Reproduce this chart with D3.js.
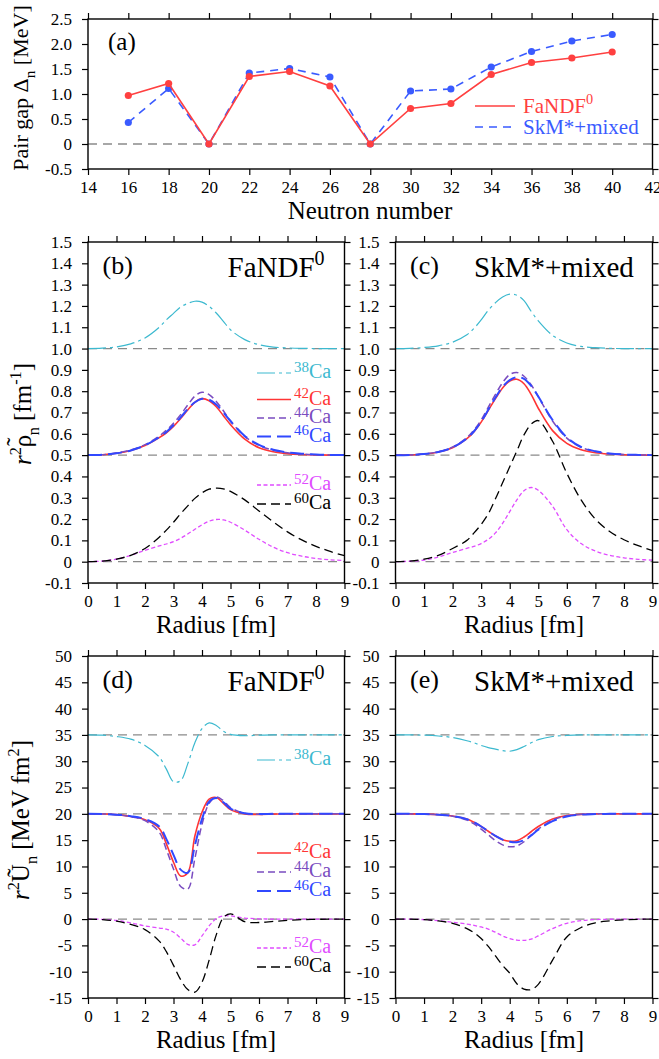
<!DOCTYPE html>
<html><head><meta charset="utf-8">
<script src="https://cdn.jsdelivr.net/npm/d3@7"></script>
<style>body{margin:0;background:#fff}svg{display:block}</style>
</head><body><svg id="c" width="659" height="1059"></svg>
<script>
// ---------- DATA ----------
const neutronNumbers = [16,18,20,22,24,26,28,30,32,34,36,38,40];
const gapFaNDF = [0.97,1.21,0.0,1.35,1.45,1.16,0.0,0.71,0.81,1.39,1.63,1.72,1.84];
const gapSkM   = [0.43,1.11,0.0,1.42,1.51,1.34,0.0,1.06,1.10,1.54,1.85,2.06,2.19];
const nTicks   = [14,16,18,20,22,24,26,28,30,32,34,36,38,40,42];
const gapTicks = [-0.5,0,0.5,1.0,1.5,2.0,2.5];
const radiusTicks = [0,1,2,3,4,5,6,7,8,9];
const rhoTicks = [-0.1,0,0.1,0.2,0.3,0.4,0.5,0.6,0.7,0.8,0.9,1.0,1.1,1.2,1.3,1.4,1.5];
const potTicks = [-15,-10,-5,0,5,10,15,20,25,30,35,40,45,50];
const isotopes = ["38","42","44","46","52","60"];
const rhoRefLines = [0,0.5,1.0];
const potRefLines = [0,20,35];

const radius = [0,0.5,1,1.5,2,2.5,2.75,3,3.25,3.5,3.75,4,4.25,4.5,4.75,5,5.5,6,6.5,7,7.5,8,8.5,9];

// (b) FaNDF0 densities (plotted, with offsets)
const rhoF38 = [1.0,1.002,1.008,1.022,1.05,1.10,1.135,1.165,1.195,1.212,1.222,1.218,1.198,1.167,1.128,1.088,1.042,1.018,1.007,1.003,1.001,1.0,1.0,1.0];
const rhoF42 = [0.5,0.502,0.509,0.522,0.545,0.582,0.605,0.635,0.672,0.712,0.748,0.765,0.755,0.727,0.685,0.643,0.575,0.535,0.516,0.507,0.503,0.501,0.5,0.5];
const rhoF44 = [0.5,0.502,0.51,0.524,0.549,0.59,0.617,0.65,0.69,0.735,0.777,0.795,0.784,0.752,0.708,0.66,0.588,0.546,0.523,0.511,0.505,0.502,0.501,0.5];
const rhoF46 = [0.5,0.502,0.509,0.522,0.546,0.584,0.609,0.64,0.677,0.716,0.748,0.764,0.76,0.737,0.70,0.66,0.59,0.548,0.525,0.513,0.507,0.503,0.501,0.5];
const rhoF52 = [0,0.003,0.012,0.03,0.053,0.074,0.083,0.094,0.11,0.13,0.152,0.173,0.19,0.198,0.196,0.185,0.148,0.105,0.068,0.042,0.026,0.015,0.009,0.005];
const rhoF60 = [0,0.003,0.012,0.03,0.062,0.115,0.148,0.185,0.225,0.262,0.297,0.323,0.34,0.345,0.342,0.33,0.29,0.238,0.187,0.14,0.102,0.072,0.048,0.028];

// (c) SkM*+mixed densities
const rhoS38 = [1.0,1.001,1.005,1.013,1.03,1.065,1.095,1.135,1.18,1.215,1.242,1.255,1.25,1.225,1.175,1.13,1.062,1.026,1.01,1.004,1.001,1.0,1.0,1.0];
const rhoS42 = [0.5,0.501,0.505,0.515,0.535,0.577,0.61,0.655,0.71,0.765,0.815,0.848,0.856,0.835,0.785,0.72,0.615,0.555,0.525,0.511,0.505,0.502,0.5,0.5];
const rhoS44 = [0.5,0.501,0.505,0.516,0.538,0.582,0.618,0.665,0.725,0.785,0.84,0.878,0.888,0.87,0.83,0.775,0.66,0.58,0.537,0.517,0.507,0.503,0.501,0.5];
const rhoS46 = [0.5,0.501,0.505,0.515,0.536,0.578,0.612,0.657,0.713,0.77,0.82,0.852,0.866,0.858,0.825,0.775,0.665,0.583,0.538,0.518,0.508,0.503,0.501,0.5];
const rhoS52 = [0,0.002,0.008,0.022,0.043,0.063,0.072,0.085,0.105,0.135,0.18,0.235,0.29,0.333,0.348,0.335,0.26,0.15,0.085,0.05,0.03,0.018,0.011,0.007];
const rhoS60 = [0,0.003,0.012,0.03,0.062,0.1,0.135,0.175,0.225,0.295,0.37,0.445,0.52,0.595,0.645,0.662,0.565,0.415,0.29,0.2,0.142,0.103,0.075,0.052];

// (d) FaNDF0 pairing potentials
const potF38 = [35,34.95,34.7,34.2,33.0,30.8,28.5,26.1,26.3,29.5,33.5,36.2,37.3,36.8,35.7,35.1,34.85,34.95,35,35,35,35,35,35];
const potF42 = [20,19.97,19.85,19.5,18.9,17.2,14.3,10.8,8.2,8.8,15.8,20.3,22.8,23.1,22.0,20.8,20.0,19.9,19.95,20,20,20,20,20];
const potF44 = [20,19.97,19.85,19.45,18.7,16.5,13.2,9.5,6.2,5.7,11.5,18.0,22.0,23.2,22.5,21.2,20.1,19.9,19.95,20,20,20,20,20];
const potF46 = [20,19.97,19.85,19.55,19.0,17.6,15.2,12.2,9.4,8.8,14.0,19.0,22.3,23.0,22.2,21.0,20.1,19.95,20,20,20,20,20,20];
const potF52 = [0,-0.05,-0.25,-0.7,-1.3,-1.7,-1.9,-2.5,-3.6,-4.8,-4.9,-3.2,-1.3,0.1,0.6,0.6,0.2,0.05,0,0,0,0,0,0];
const potF60 = [0,-0.1,-0.4,-1.0,-2.0,-4.2,-6.2,-8.8,-11.5,-13.4,-13.9,-12.0,-7.8,-3.0,0.3,1.0,-0.5,-0.65,-0.45,-0.25,-0.1,-0.05,0,0];

// (e) SkM*+mixed pairing potentials
const potS38 = [35,35,34.95,34.8,34.5,33.9,33.5,33.0,32.6,32.3,32.0,31.9,32.2,32.8,33.5,34.1,34.7,34.9,35,35,35,35,35,35];
const potS42 = [20,20,19.95,19.85,19.6,19.0,18.4,17.6,16.7,15.8,15.1,14.8,14.9,15.6,16.6,17.6,19.0,19.7,19.9,20,20,20,20,20];
const potS44 = [20,20,19.95,19.85,19.55,18.8,18.1,17.1,16.0,14.9,14.1,13.75,13.9,14.7,15.9,17.1,18.8,19.6,19.9,20,20,20,20,20];
const potS46 = [20,20,19.95,19.85,19.6,19.0,18.4,17.6,16.7,15.8,15.1,14.7,14.6,15.0,15.9,17.0,18.6,19.5,19.85,19.95,20,20,20,20];
const potS52 = [0,-0.02,-0.1,-0.3,-0.6,-0.95,-1.2,-1.5,-1.9,-2.5,-3.2,-3.7,-4.0,-4.05,-3.8,-3.2,-1.8,-0.8,-0.3,-0.1,-0.03,0,0,0];
const potS60 = [0,-0.02,-0.1,-0.35,-0.8,-1.8,-2.6,-3.7,-5.2,-7.0,-8.8,-10.3,-12.3,-13.3,-13.4,-12.4,-7.8,-3.4,-1.6,-0.7,-0.35,-0.15,-0.05,0];

// ---------- STYLE ----------
const FONT = '"Liberation Serif","Times New Roman",Times,serif';
const isoStyle = {
  "38": {color:"#3cb9cf", dash:"18,4,3,4", width:1.2},
  "42": {color:"#ff3535", dash:null,       width:1.6},
  "44": {color:"#7a4cc0", dash:"7,4",      width:1.5},
  "46": {color:"#3048ff", dash:"14,6",     width:2.0},
  "52": {color:"#e04cff", dash:"4,2.5",    width:1.3},
  "60": {color:"#000000", dash:"9,5",      width:1.3}
};
const gapRed = "#ff4040", gapBlue = "#3a5bff";

const svg = d3.select("#c");
svg.append("rect").attr("width",659).attr("height",1059).attr("fill","#fff");

// parts: strings or {t, sup, sub, italic, rise, drop, scale, raise(px), dx(px)}
function richText(g, x, y, parts, size, opts={}) {
  const t = g.append("text").attr("x",x).attr("y",y)
    .attr("font-size",size).attr("font-family",FONT)
    .attr("fill", opts.fill || "#000");
  if (opts.anchor) t.attr("text-anchor", opts.anchor);
  if (opts.transform) t.attr("transform", opts.transform);
  let shift = 0;
  parts.forEach(p => {
    const s = typeof p === "string" ? {t:p} : p;
    const ts = t.append("tspan").text(s.t);
    let target = 0, fs = size;
    if (s.sup) { target = -size*(s.rise||0.4); fs = size*(s.scale||0.7); }
    if (s.sub) { target = size*(s.drop||0.25); fs = size*(s.scale||0.7); }
    if (s.raise !== undefined) { target = -s.raise; }
    ts.attr("dy", target - shift); shift = target;
    if (s.dx) ts.attr("dx", s.dx);
    if (fs !== size) ts.attr("font-size", fs);
    if (s.italic) ts.attr("font-style","italic");
  });
  return t;
}

function styleAxis(s) {
  s.select(".domain").remove();
  s.selectAll("line").attr("stroke","#000").attr("stroke-width",1.2);
  s.selectAll("text").attr("font-family",FONT).attr("font-size",17).attr("fill","#000");
}

let clipN = 0;
function panel(p) {
  const g = svg.append("g");
  const x = d3.scaleLinear().domain(p.xDomain).range([p.x0,p.x1]);
  const y = d3.scaleLinear().domain(p.yDomain).range([p.y1,p.y0]);
  const id = "clip" + (clipN++);
  svg.append("clipPath").attr("id",id).append("rect")
    .attr("x",p.x0).attr("y",p.y0).attr("width",p.x1-p.x0).attr("height",p.y1-p.y0);
  const inner = g.append("g").attr("clip-path",`url(#${id})`);
  p.refLines.forEach(v => inner.append("line")
    .attr("x1",p.x0).attr("x2",p.x1).attr("y1",y(v)).attr("y2",y(v))
    .attr("stroke","#8a8a8a").attr("stroke-width",1.3).attr("stroke-dasharray","9,6"));
  const tl = 6;
  g.append("g").attr("transform",`translate(0,${p.y1})`)
    .call(d3.axisBottom(x).tickValues(p.xTicks).tickSize(tl).tickPadding(6).tickFormat(p.xFmt)).call(styleAxis);
  g.append("g").attr("transform",`translate(0,${p.y0})`)
    .call(d3.axisTop(x).tickValues(p.xTicks).tickSize(tl).tickFormat("")).call(styleAxis);
  g.append("g").attr("transform",`translate(${p.x0},0)`)
    .call(d3.axisLeft(y).tickValues(p.yTicks).tickSize(tl).tickPadding(10).tickFormat(p.yFmt)).call(styleAxis);
  g.append("g").attr("transform",`translate(${p.x1},0)`)
    .call(d3.axisRight(y).tickValues(p.yTicks).tickSize(tl).tickFormat("")).call(styleAxis);
  g.append("rect").attr("x",p.x0).attr("y",p.y0).attr("width",p.x1-p.x0).attr("height",p.y1-p.y0)
    .attr("fill","none").attr("stroke","#000").attr("stroke-width",1.4);
  return {x, y, g, inner};
}

const fmt1 = d => d === 0 ? "0" : d.toFixed(1);
const fmt0 = d => String(d);

// ---------- PANEL (a) ----------
const pa = panel({x0:88,x1:652.5,y0:19,y1:169,xDomain:[14,42],yDomain:[-0.5,2.5],
  xTicks:nTicks,yTicks:gapTicks,xFmt:fmt0,yFmt:fmt1,refLines:[0]});
const lineA = d3.line().x(d=>pa.x(d[0])).y(d=>pa.y(d[1]));
const skmPts = neutronNumbers.map((n,i)=>[n,gapSkM[i]]);
const fanPts = neutronNumbers.map((n,i)=>[n,gapFaNDF[i]]);
pa.inner.append("path").attr("d",lineA(skmPts)).attr("fill","none").attr("stroke",gapBlue)
  .attr("stroke-width",1.6).attr("stroke-dasharray","8,6");
pa.inner.selectAll("circle.sk").data(skmPts).enter().append("circle")
  .attr("cx",d=>pa.x(d[0])).attr("cy",d=>pa.y(d[1])).attr("r",3.6).attr("fill",gapBlue);
pa.inner.append("path").attr("d",lineA(fanPts)).attr("fill","none").attr("stroke",gapRed).attr("stroke-width",1.6);
pa.inner.selectAll("circle.fa").data(fanPts).enter().append("circle")
  .attr("cx",d=>pa.x(d[0])).attr("cy",d=>pa.y(d[1])).attr("r",3.6).attr("fill",gapRed);
// legend (a)
svg.append("line").attr("x1",475).attr("x2",515).attr("y1",106).attr("y2",106).attr("stroke",gapRed).attr("stroke-width",1.6);
svg.append("line").attr("x1",475).attr("x2",515).attr("y1",127).attr("y2",127).attr("stroke",gapBlue).attr("stroke-width",1.6).attr("stroke-dasharray","8,6");
richText(svg,523,113,["FaNDF",{t:"0",sup:true,rise:0.42,scale:0.68}],21,{fill:gapRed});
richText(svg,523,134,["SkM*+mixed"],21,{fill:gapBlue});
richText(svg,108,50,["(a)"],25);
richText(svg,370,219,["Neutron number"],25,{anchor:"middle"});
richText(svg,0,0,["Pair gap Δ",{t:"n",sub:true,drop:0.3},"  [MeV]"],22,{anchor:"middle",transform:"translate(28,88) rotate(-90)"});

// ---------- density & potential panels ----------
const curveLine = (P) => d3.line().x((d,i)=>P.x(radius[i])).y(d=>P.y(d)).curve(d3.curveCatmullRom.alpha(0.5));
function drawCurves(P, series) {
  const ln = curveLine(P);
  isotopes.forEach(k => {
    const st = isoStyle[k];
    const path = P.inner.append("path").attr("d", ln(series[k])).attr("fill","none")
      .attr("stroke",st.color).attr("stroke-width",st.width);
    if (st.dash) path.attr("stroke-dasharray",st.dash);
  });
}
function legend(entries, x0, x1, tx) {
  entries.forEach(([k,base]) => {
    const st = isoStyle[k];
    const l = svg.append("line").attr("x1",x0).attr("x2",x1).attr("y1",base-5).attr("y2",base-5)
      .attr("stroke",st.color).attr("stroke-width",st.width);
    if (st.dash) l.attr("stroke-dasharray",st.dash);
    richText(svg,tx,base,[{t:k,sup:true,rise:0.32,scale:0.75},"Ca"],20,{fill:st.color});
  });
}

const rhoCfg = {xDomain:[0,9],yDomain:[-0.1,1.5],xTicks:radiusTicks,yTicks:rhoTicks,xFmt:fmt0,yFmt:fmt1,refLines:rhoRefLines};
const potCfg = {xDomain:[0,9],yDomain:[-15,50],xTicks:radiusTicks,yTicks:potTicks,xFmt:fmt0,yFmt:fmt0,refLines:potRefLines};

const pb = panel(Object.assign({x0:88,x1:344.5,y0:242,y1:583}, rhoCfg));
drawCurves(pb, {"38":rhoF38,"42":rhoF42,"44":rhoF44,"46":rhoF46,"52":rhoF52,"60":rhoF60});
const pc = panel(Object.assign({x0:395.5,x1:652.5,y0:242,y1:583}, rhoCfg));
drawCurves(pc, {"38":rhoS38,"42":rhoS42,"44":rhoS44,"46":rhoS46,"52":rhoS52,"60":rhoS60});
const pd = panel(Object.assign({x0:88,x1:344.5,y0:656,y1:998}, potCfg));
drawCurves(pd, {"38":potF38,"42":potF42,"44":potF44,"46":potF46,"52":potF52,"60":potF60});
const pe = panel(Object.assign({x0:395.5,x1:652.5,y0:656,y1:998}, potCfg));
drawCurves(pe, {"38":potS38,"42":potS42,"44":potS44,"46":potS46,"52":potS52,"60":potS60});

legend([["38",378],["42",404.5],["44",423],["46",441.5],["52",490],["60",509]], 257, 291, 294);
legend([["38",765],["42",858],["44",877],["46",896],["52",953],["60",972]], 257, 291, 294);

// panel labels & titles
richText(svg,102.5,274,["(b)"],26);
richText(svg,227.5,277,["FaNDF",{t:"0",sup:true,rise:0.42,scale:0.69}],29);
richText(svg,410,274,["(c)"],26);
richText(svg,474,277,["SkM*+mixed"],29);
richText(svg,102.5,688,["(d)"],26);
richText(svg,227.5,691,["FaNDF",{t:"0",sup:true,rise:0.42,scale:0.69}],29);
richText(svg,410,688,["(e)"],26);
richText(svg,474,691,["SkM*+mixed"],29);

// axis titles
richText(svg,216,633,["Radius [fm]"],25,{anchor:"middle"});
richText(svg,524,633,["Radius [fm]"],25,{anchor:"middle"});
richText(svg,216,1048,["Radius [fm]"],25,{anchor:"middle"});
richText(svg,524,1048,["Radius [fm]"],25,{anchor:"middle"});
richText(svg,0,0,[{t:"r",italic:true},{t:"2",sup:true,rise:0.4,scale:0.65},"ρ",
  {t:"\u02DC",raise:7,dx:-11},{t:"n",sub:true,drop:0.3,scale:0.65,dx:2},
  " [fm",{t:"-1",sup:true,rise:0.4,scale:0.65},"]"],25,
  {anchor:"middle",transform:"translate(31,414) rotate(-90)"});
richText(svg,0,0,[{t:"r",italic:true},{t:"2",sup:true,rise:0.4,scale:0.65},"Ũ",{t:"n",sub:true,drop:0.3,scale:0.65}," [MeV fm",{t:"2",sup:true,rise:0.4,scale:0.65},"]"],25,
  {anchor:"middle",transform:"translate(29,820) rotate(-90)"});
</script></body></html>
